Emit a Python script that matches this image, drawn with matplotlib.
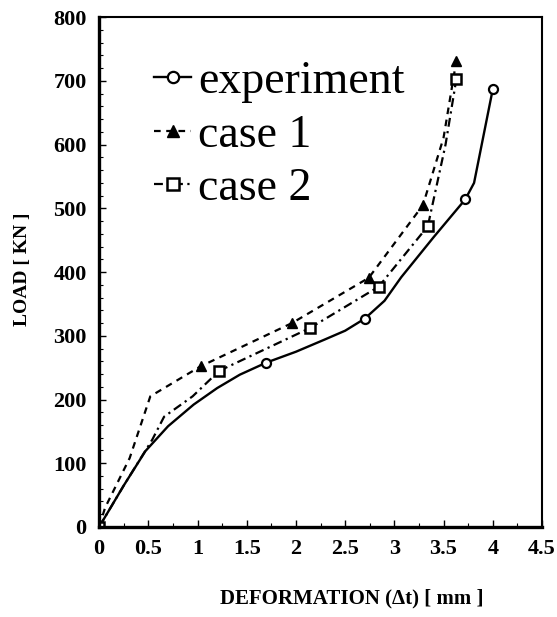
import matplotlib
matplotlib.use("Agg")
import matplotlib.pyplot as plt
from matplotlib.ticker import MultipleLocator

# values
exp_x = [0, 0.25, 0.47, 0.7, 0.96, 1.2, 1.43, 1.70, 2.0, 2.29, 2.5, 2.70, 2.9, 3.07, 3.4, 3.72, 3.81, 4.0]
exp_y = [0, 65, 119, 158, 192, 218, 239, 258, 275, 294, 308, 327, 355, 392, 455, 514, 540, 687]
exp_marks = [0, 7, 11, 15, 17]

case1_x = [0, 0.06, 0.31, 0.52, 1.03, 1.96, 2.74, 3.29, 3.5, 3.63]
case1_y = [0, 30, 108, 205, 252, 320, 391, 505, 611, 732]
case1_marks = [0, 4, 5, 6, 7, 9]

case2_x = [0, 0.25, 0.54, 0.66, 0.95, 1.22, 2.14, 2.84, 3.34, 3.52, 3.63]
case2_y = [0, 65, 137, 173, 205, 245, 312, 377, 472, 600, 703]
case2_marks = [0, 5, 6, 7, 8, 10]

x_ticks = [0, 0.5, 1, 1.5, 2, 2.5, 3, 3.5, 4, 4.5]
x_labels = ["0", "0.5", "1", "1.5", "2", "2.5", "3", "3.5", "4", "4.5"]
y_ticks = [0, 100, 200, 300, 400, 500, 600, 700, 800]

plt.rcParams["font.family"] = ["Liberation Serif", "DejaVu Serif"]

fig = plt.figure(figsize=(5.57, 6.17), dpi=100)
ax = fig.add_axes([0.178, 0.146, 0.795, 0.826])

ax.plot(exp_x, exp_y, "-", color="black", lw=1.7, marker="o", markevery=exp_marks,
        ms=6.5, mfc="white", mec="black", mew=1.6, label="experiment")
ax.plot(case1_x, case1_y, color="black", lw=1.6, ls=(0, (3, 2.5)), marker="^",
        markevery=case1_marks, ms=7, mfc="black", mec="black", label="case 1")
ax.plot(case2_x, case2_y, color="black", lw=1.6, ls=(0, (4, 2, 1, 2)), marker="s",
        markevery=case2_marks, ms=6.5, mfc="white", mec="black", mew=1.8, label="case 2")

ax.set_xlim(0, 4.5)
ax.set_ylim(0, 800)
ax.set_xticks(x_ticks)
ax.set_xticklabels(x_labels)
ax.set_yticks(y_ticks)
ax.xaxis.set_minor_locator(MultipleLocator(0.25))
ax.yaxis.set_minor_locator(MultipleLocator(20))
ax.tick_params(which="major", direction="in", length=5, width=1, labelsize=16, pad=9)
ax.tick_params(which="minor", direction="in", length=3, width=0.8)
for lab in ax.get_xticklabels() + ax.get_yticklabels():
    lab.set_fontweight("bold")

ax.spines["left"].set_linewidth(2.4)
ax.spines["bottom"].set_linewidth(2.4)
ax.spines["top"].set_linewidth(1.5)
ax.spines["right"].set_linewidth(1.5)

ax.set_xlabel("DEFORMATION (Δt) [ mm ]", fontsize=15, fontweight="bold")
ax.set_ylabel("LOAD [ KN ]", fontsize=14, fontweight="bold")
ax.xaxis.set_label_coords(0.57, -0.12)
ax.yaxis.set_label_coords(-0.155, 0.505)

ax.legend(loc="upper left", bbox_to_anchor=(0.125, 0.915), frameon=False,
          fontsize=33, handlelength=0.8, handletextpad=0.15, labelspacing=0.24,
          borderaxespad=0, borderpad=0, markerscale=1.25)

fig.savefig("out.png", dpi=100)
